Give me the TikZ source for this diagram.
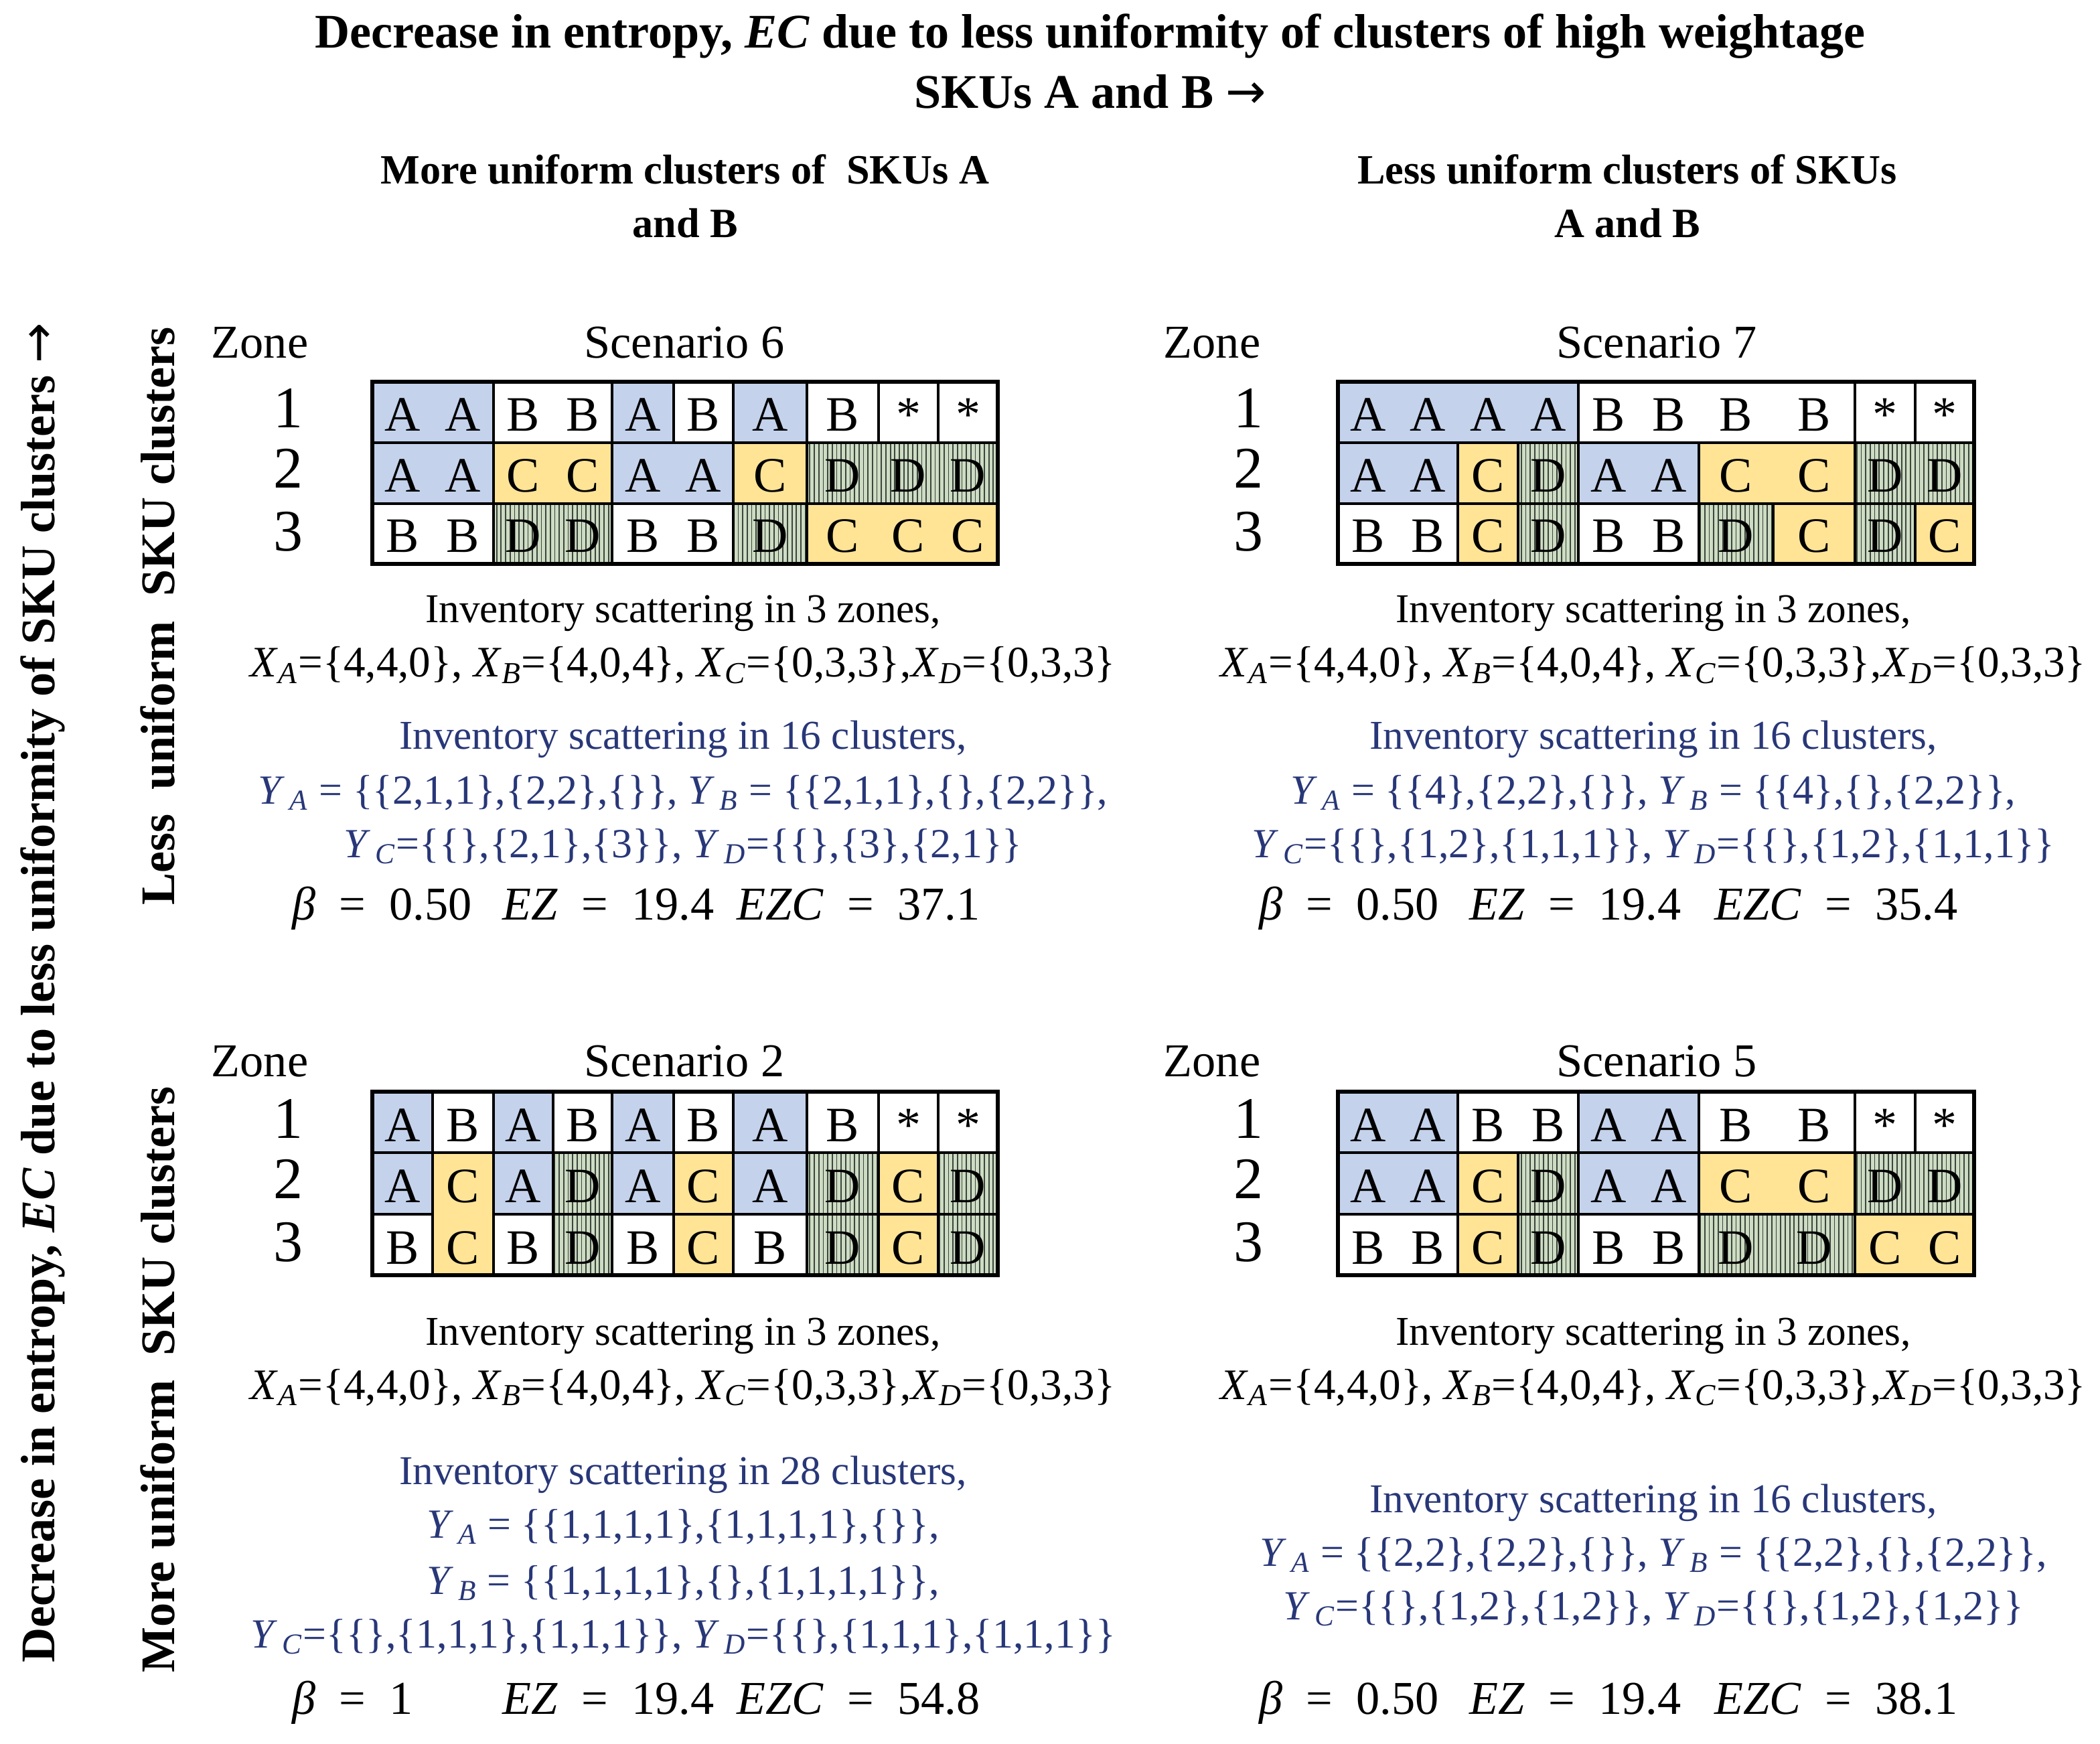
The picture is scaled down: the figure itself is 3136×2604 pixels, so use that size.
\documentclass[tikz,border=0pt]{standalone}
\usepackage{fontspec}
\setmainfont{Liberation Serif}
\newfontfamily\arrowfont{DejaVu Sans}
\usetikzlibrary{patterns.meta}
\definecolor{cAfill}{RGB}{196,210,236}
\definecolor{cCfill}{RGB}{255,228,150}
\definecolor{cDfill}{RGB}{205,220,195}
\definecolor{cDline}{RGB}{60,70,60}
\definecolor{tblue}{RGB}{40,55,120}
\newcommand\Xs[1]{\textit{X}\textsubscript{\textit{#1}}}
\newcommand\Ys[1]{\textit{Y}\textsubscript{\,\textit{#1}}}
\newcommand\rarr{{\arrowfont\mdseries →}}
\def\LX{{556,646,737,826,914,1006,1095,1205,1312,1401,1490}}
\def\RX{{1998,2088,2177,2267,2357,2447,2537,2648,2770,2860,2948}}
\def\TY{{570,661,752,842}}
\def\BY{{1630,1721,1813,1904}}
% #1 x-array #2 y-array #3 first row #4 last row #5 first col #6 last col #7 style
\newcommand\blk[7]{%
  \pgfmathsetmacro\bkxa{#1[#5]}%
  \pgfmathsetmacro\bkxb{#1[#6+1]}%
  \pgfmathsetmacro\bkya{#2[#3-1]}%
  \pgfmathsetmacro\bkyb{#2[#4]}%
  \path[#7] (\bkxa,\bkya) rectangle (\bkxb,\bkyb);
  \draw[gline] (\bkxa,\bkya) rectangle (\bkxb,\bkyb);}
% #1 x-array #2 baseline #3 name prefix #4 letters
\newcommand\lts[4]{%
  \foreach \lett [count=\li from 0] in {#4}{%
    \pgfmathsetmacro\lxa{#1[\li]}%
    \pgfmathsetmacro\lxb{#1[\li+1]}%
    \pgfmathsetmacro\lcx{(\lxa+\lxb)/2}%
    \node[lt] (#3-\li) at (\lcx,#2) {\lett};}}
\tikzset{
  cA/.style={fill=cAfill}, cW/.style={fill=white}, cC/.style={fill=cCfill},
  cD/.style={fill=cDfill, postaction={pattern={Lines[angle=90,distance=1.9pt,line width=0.5pt]}, pattern color=cDline}},
  gline/.style={draw=black, line width=1pt},
  frame/.style={draw=black, line width=1.6pt},
  lt/.style={font=\fontsize{21}{21}\selectfont, anchor=base, inner sep=0pt},
  ttl/.style={font=\fontsize{20.5}{24}\selectfont\bfseries, anchor=base, inner sep=0pt},
  sub/.style={font=\fontsize{17.7}{21}\selectfont\bfseries, anchor=base, inner sep=0pt},
  vlab/.style={font=\fontsize{20.5}{24}\selectfont\bfseries, rotate=90, inner sep=0pt},
  hdr/.style={font=\fontsize{20}{24}\selectfont, anchor=base, inner sep=0pt},
  znum/.style={font=\fontsize{25}{28}\selectfont, anchor=base, inner sep=0pt},
  inv/.style={font=\fontsize{17.4}{20}\selectfont, anchor=base, inner sep=0pt},
  xl/.style={font=\fontsize{18.5}{21}\selectfont, anchor=base, inner sep=0pt},
  binv/.style={font=\fontsize{17.4}{20}\selectfont, text=tblue, anchor=base, inner sep=0pt},
  yl/.style={font=\fontsize{17.6}{21}\selectfont, text=tblue, anchor=base, inner sep=0pt},
  bl/.style={font=\fontsize{20}{24}\selectfont, anchor=base west, inner sep=0pt},
}
\begin{document}
\begin{tikzpicture}[x=0.01cm, y=-0.01cm]
\useasboundingbox (0,0) rectangle (3136,2604);
\fill[white] (0,0) rectangle (3136,2604);
% titles
\node[ttl] (t1) at (1628,72) {Decrease in entropy, \textit{EC} due to less uniformity of clusters of high weightage};
\node[ttl] (t2) at (1628,162) {SKUs A and B \rarr};
\node[sub] (sl1) at (1023,275) {More uniform clusters of \ SKUs A};
\node[sub] (sl2) at (1023,355) {and B};
\node[sub] (sr1) at (2430,275) {Less uniform clusters of SKUs};
\node[sub] (sr2) at (2430,355) {A and B};
\node[vlab] (vl) at (64,1482) {Decrease in entropy, \textit{EC} due to less uniformity of SKU clusters \rarr};
\node[vlab] (vlt) at (236,920) {Less \ uniform \ SKU clusters};
\node[vlab] (vlb) at (236,2060) {More uniform \ SKU clusters};
% headers
\node[hdr] (z6) at (388,535) {Zone};
\node[hdr] (s6) at (1022,535) {Scenario 6};
\node[hdr] (z7) at (1810,535) {Zone};
\node[hdr] (s7) at (2474,535) {Scenario 7};
\node[hdr] (z2) at (388,1607) {Zone};
\node[hdr] (s2) at (1022,1607) {Scenario 2};
\node[hdr] (z5) at (1810,1607) {Zone};
\node[hdr] (s5) at (2474,1607) {Scenario 5};
\foreach \n/\yy in {1/639,2/729,3/823}{
  \node[znum] (n6-\n) at (430,\yy) {\n};
  \node[znum] (n7-\n) at (1864,\yy) {\n};}
\foreach \n/\yy in {1/1699,2/1789,3/1883}{
  \node[znum] (n2-\n) at (430,\yy) {\n};
  \node[znum] (n5-\n) at (1864,\yy) {\n};}
% ---------- Scenario 6 ----------
\foreach \i/\j/\s in {0/1/cA,2/3/cW,4/4/cA,5/5/cW,6/6/cA,7/7/cW,8/8/cW,9/9/cW}{\blk\LX\TY{1}{1}{\i}{\j}{\s}}
\foreach \i/\j/\s in {0/1/cA,2/3/cC,4/5/cA,6/6/cC,7/9/cD}{\blk\LX\TY{2}{2}{\i}{\j}{\s}}
\foreach \i/\j/\s in {0/1/cW,2/3/cD,4/5/cW,6/6/cD,7/9/cC}{\blk\LX\TY{3}{3}{\i}{\j}{\s}}
\draw[frame] (556,570) rectangle (1490,842);
\lts\LX{644}{g6a}{A,A,B,B,A,B,A,B,*,*}
\lts\LX{735}{g6b}{A,A,C,C,A,A,C,D,D,D}
\lts\LX{825}{g6c}{B,B,D,D,B,B,D,C,C,C}
% ---------- Scenario 7 ----------
\foreach \i/\j/\s in {0/3/cA,4/7/cW,8/8/cW,9/9/cW}{\blk\RX\TY{1}{1}{\i}{\j}{\s}}
\foreach \i/\j/\s in {0/1/cA,2/2/cC,3/3/cD,4/5/cA,6/7/cC,8/9/cD}{\blk\RX\TY{2}{2}{\i}{\j}{\s}}
\foreach \i/\j/\s in {0/1/cW,2/2/cC,3/3/cD,4/5/cW,6/6/cD,7/7/cC,8/8/cD,9/9/cC}{\blk\RX\TY{3}{3}{\i}{\j}{\s}}
\draw[frame] (1998,570) rectangle (2948,842);
\lts\RX{644}{g7a}{A,A,A,A,B,B,B,B,*,*}
\lts\RX{735}{g7b}{A,A,C,D,A,A,C,C,D,D}
\lts\RX{825}{g7c}{B,B,C,D,B,B,D,C,D,C}
% ---------- Scenario 2 ----------
\foreach \i/\s in {0/cA,1/cW,2/cA,3/cW,4/cA,5/cW,6/cA,7/cW,8/cW,9/cW}{\blk\LX\BY{1}{1}{\i}{\i}{\s}}
\foreach \i/\s in {0/cA,2/cA,3/cD,4/cA,5/cC,6/cA,7/cD,8/cC,9/cD}{\blk\LX\BY{2}{2}{\i}{\i}{\s}}
\foreach \i/\s in {0/cW,2/cW,3/cD,4/cW,5/cC,6/cW,7/cD,8/cC,9/cD}{\blk\LX\BY{3}{3}{\i}{\i}{\s}}
\blk\LX\BY{2}{3}{1}{1}{cC}
\draw[frame] (556,1630) rectangle (1490,1904);
\lts\LX{1704}{g2a}{A,B,A,B,A,B,A,B,*,*}
\lts\LX{1795}{g2b}{A,C,A,D,A,C,A,D,C,D}
\lts\LX{1887}{g2c}{B,C,B,D,B,C,B,D,C,D}
% ---------- Scenario 5 ----------
\foreach \i/\j/\s in {0/1/cA,2/3/cW,4/5/cA,6/7/cW,8/8/cW,9/9/cW}{\blk\RX\BY{1}{1}{\i}{\j}{\s}}
\foreach \i/\j/\s in {0/1/cA,2/2/cC,3/3/cD,4/5/cA,6/7/cC,8/9/cD}{\blk\RX\BY{2}{2}{\i}{\j}{\s}}
\foreach \i/\j/\s in {0/1/cW,2/2/cC,3/3/cD,4/5/cW,6/7/cD,8/9/cC}{\blk\RX\BY{3}{3}{\i}{\j}{\s}}
\draw[frame] (1998,1630) rectangle (2948,1904);
\lts\RX{1704}{g5a}{A,A,B,B,A,A,B,B,*,*}
\lts\RX{1795}{g5b}{A,A,C,D,A,A,C,C,D,D}
\lts\RX{1887}{g5c}{B,B,C,D,B,B,D,D,C,C}
% ---------- texts top-left ----------
\node[inv] (i6) at (1020,930) {Inventory scattering in 3 zones,};
\node[xl] (x6) at (1020,1011) {\Xs{A}=\{4,4,0\}, \Xs{B}=\{4,0,4\}, \Xs{C}=\{0,3,3\},\Xs{D}=\{0,3,3\}};
\node[binv] (c6) at (1020,1118) {Inventory scattering in 16 clusters,};
\node[yl] (ya6) at (1020,1200) {\Ys{A} = \{\{2,1,1\},\{2,2\},\{\}\}, \Ys{B} = \{\{2,1,1\},\{\},\{2,2\}\},};
\node[yl] (yc6) at (1020,1280) {\Ys{C}=\{\{\},\{2,1\},\{3\}\}, \Ys{D}=\{\{\},\{3\},\{2,1\}\}};
\node[bl] (b6) at (436,1373) {\textit{β}\ \ =\ \ 0.50};
\node[bl] (e6) at (750,1373) {\textit{EZ}\ \ =\ \ 19.4};
\node[bl] (f6) at (1100,1373) {\textit{EZC}\ \ =\ \ 37.1};
% ---------- texts top-right ----------
\node[inv] (i7) at (2469,930) {Inventory scattering in 3 zones,};
\node[xl] (x7) at (2469,1011) {\Xs{A}=\{4,4,0\}, \Xs{B}=\{4,0,4\}, \Xs{C}=\{0,3,3\},\Xs{D}=\{0,3,3\}};
\node[binv] (c7) at (2469,1118) {Inventory scattering in 16 clusters,};
\node[yl] (ya7) at (2469,1200) {\Ys{A} = \{\{4\},\{2,2\},\{\}\}, \Ys{B} = \{\{4\},\{\},\{2,2\}\},};
\node[yl] (yc7) at (2469,1280) {\Ys{C}=\{\{\},\{1,2\},\{1,1,1\}\}, \Ys{D}=\{\{\},\{1,2\},\{1,1,1\}\}};
\node[bl] (b7) at (1880,1373) {\textit{β}\ \ =\ \ 0.50};
\node[bl] (e7) at (2194,1373) {\textit{EZ}\ \ =\ \ 19.4};
\node[bl] (f7) at (2560,1373) {\textit{EZC}\ \ =\ \ 35.4};
% ---------- texts bottom-left ----------
\node[inv] (i2) at (1020,2008) {Inventory scattering in 3 zones,};
\node[xl] (x2) at (1020,2089) {\Xs{A}=\{4,4,0\}, \Xs{B}=\{4,0,4\}, \Xs{C}=\{0,3,3\},\Xs{D}=\{0,3,3\}};
\node[binv] (c2) at (1020,2216) {Inventory scattering in 28 clusters,};
\node[yl] (ya2) at (1020,2296) {\Ys{A} = \{\{1,1,1,1\},\{1,1,1,1\},\{\}\},};
\node[yl] (yb2) at (1020,2380) {\Ys{B} = \{\{1,1,1,1\},\{\},\{1,1,1,1\}\},};
\node[yl] (yc2) at (1020,2460) {\Ys{C}=\{\{\},\{1,1,1\},\{1,1,1\}\}, \Ys{D}=\{\{\},\{1,1,1\},\{1,1,1\}\}};
\node[bl] (b2) at (436,2559) {\textit{β}\ \ =\ \ 1};
\node[bl] (e2) at (750,2559) {\textit{EZ}\ \ =\ \ 19.4};
\node[bl] (f2) at (1100,2559) {\textit{EZC}\ \ =\ \ 54.8};
% ---------- texts bottom-right ----------
\node[inv] (i5) at (2469,2008) {Inventory scattering in 3 zones,};
\node[xl] (x5) at (2469,2089) {\Xs{A}=\{4,4,0\}, \Xs{B}=\{4,0,4\}, \Xs{C}=\{0,3,3\},\Xs{D}=\{0,3,3\}};
\node[binv] (c5) at (2469,2258) {Inventory scattering in 16 clusters,};
\node[yl] (ya5) at (2469,2338) {\Ys{A} = \{\{2,2\},\{2,2\},\{\}\}, \Ys{B} = \{\{2,2\},\{\},\{2,2\}\},};
\node[yl] (yc5) at (2469,2418) {\Ys{C}=\{\{\},\{1,2\},\{1,2\}\}, \Ys{D}=\{\{\},\{1,2\},\{1,2\}\}};
\node[bl] (b5) at (1880,2559) {\textit{β}\ \ =\ \ 0.50};
\node[bl] (e5) at (2194,2559) {\textit{EZ}\ \ =\ \ 19.4};
\node[bl] (f5) at (2560,2559) {\textit{EZC}\ \ =\ \ 38.1};
\end{tikzpicture}
\end{document}
